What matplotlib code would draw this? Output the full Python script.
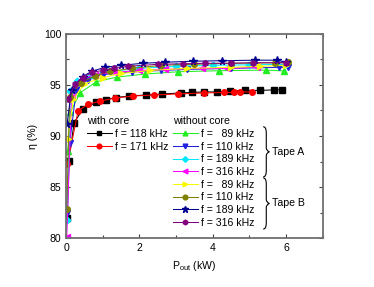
import matplotlib
matplotlib.use("Agg")
import matplotlib.pyplot as plt
from matplotlib.ticker import MultipleLocator
from matplotlib.path import Path
from matplotlib.patches import PathPatch

plt.rcParams['font.family'] = ['Liberation Sans', 'DejaVu Sans']
plt.rcParams['mathtext.fontset'] = 'custom'
plt.rcParams['mathtext.rm'] = 'Liberation Sans'

# ---- data ----
core118_x = [0.02, 0.08, 0.22, 0.47, 0.83, 1.08, 1.36, 1.72, 2.19, 2.63, 3.13, 3.43, 3.76, 4.12, 4.48, 4.88, 5.3, 5.67, 5.9]
core118_y = [82.0, 87.6, 91.3, 92.65, 93.3, 93.55, 93.75, 93.9, 94.0, 94.1, 94.2, 94.25, 94.3, 94.3, 94.4, 94.45, 94.45, 94.5, 94.5]
core171_x = [0.04, 0.33, 0.6, 0.93, 1.34, 1.83, 2.4, 3.05, 3.76, 4.32, 4.57, 4.75, 5.08]
core171_y = [87.3, 92.45, 93.1, 93.4, 93.7, 93.9, 94.0, 94.1, 94.2, 94.25, 94.25, 94.3, 94.3]

a89_x = [0.05, 0.12, 0.38, 0.83, 1.39, 2.16, 3.06, 4.16, 5.45, 5.95]
a89_y = [88.5, 92.3, 94.2, 95.3, 95.75, 96.05, 96.27, 96.37, 96.43, 96.35]
a110_x = [0.04, 0.1, 0.28, 0.6, 1.0, 1.8, 2.6, 3.3, 4.5, 5.8, 6.05]
a110_y = [82.5, 89.3, 94.5, 95.5, 96.0, 96.25, 96.4, 96.5, 96.6, 96.7, 96.7]
a189_x = [0.03, 0.12, 0.3, 0.7, 1.2, 2.0, 3.0, 4.0, 5.0, 6.0]
a189_y = [81.8, 94.4, 95.4, 96.0, 96.3, 96.6, 96.8, 96.9, 96.95, 97.0]
a316_x = [0.02, 0.15, 0.4, 0.8, 1.3, 2.0, 2.7, 3.7, 4.4, 5.2]
a316_y = [80.1, 93.8, 95.5, 96.0, 96.2, 96.4, 96.5, 96.6, 96.6, 96.7]
b89_x = [0.05, 0.2, 0.5, 1.0, 1.5, 2.3, 3.3, 4.5, 5.3, 6.0]
b89_y = [89.7, 93.6, 95.1, 95.7, 96.1, 96.4, 96.6, 96.7, 96.8, 96.9]
b110_x = [0.02, 0.1, 0.4, 0.8, 1.2, 1.8, 2.6, 3.5, 4.5, 5.7, 6.05]
b110_y = [82.9, 93.8, 95.2, 95.9, 96.3, 96.6, 96.9, 97.0, 97.1, 97.15, 97.2]
b189_x = [0.03, 0.15, 0.45, 0.7, 1.05, 1.5, 2.1, 2.7, 3.45, 4.25, 5.15, 5.75, 6.0]
b189_y = [91.2, 94.5, 95.8, 96.3, 96.7, 96.9, 97.1, 97.2, 97.3, 97.35, 97.4, 97.4, 97.2]
b316_x = [0.05, 0.25, 0.45, 0.7, 1.0, 1.3, 1.7, 2.5, 3.2, 3.8, 4.5, 5.1, 6.0]
b316_y = [93.6, 95.1, 95.7, 96.2, 96.4, 96.6, 96.8, 97.0, 97.05, 97.1, 97.1, 97.15, 97.15]

with_labels = ['f = 118 kHz', 'f = 171 kHz']
without_labels = ['f =   89 kHz', 'f = 110 kHz', 'f = 189 kHz', 'f = 316 kHz',
                  'f =   89 kHz', 'f = 110 kHz', 'f = 189 kHz', 'f = 316 kHz']

fig = plt.figure(figsize=(3.74, 2.87), dpi=100)
ax = fig.add_axes([0.1765, 0.1697, 0.6865, 0.7133])

fs = 7.6
lw = 0.75
ms = 4

with_series = [(core118_x, core118_y, 'black', 's'), (core171_x, core171_y, 'red', 'o')]
without_series = [
    (a89_x, a89_y, '#22ee22', '^'),
    (a110_x, a110_y, '#2020e0', 'v'),
    (a189_x, a189_y, '#00e8ff', 'D'),
    (a316_x, a316_y, '#ff00ff', '<'),
    (b89_x, b89_y, '#f8f800', '>'),
    (b110_x, b110_y, '#808000', 'o'),
    (b189_x, b189_y, '#000090', '*'),
    (b316_x, b316_y, '#800080', 'h'),
]

h_with = []
for (x, y, c, m), lab in zip(with_series, with_labels):
    l, = ax.plot(x, y, color=c, marker=m, ms=ms, lw=lw, label=lab)
    h_with.append(l)
h_without = []
for (x, y, c, m), lab in zip(without_series, without_labels):
    mss = ms + 1.5 if m == '*' else (ms - 0.6 if m == 'D' else ms)
    l, = ax.plot(x, y, color=c, marker=m, ms=mss, lw=lw, label=lab)
    h_without.append(l)

ax.set_xlim(0, 7)
ax.set_ylim(80, 100)
ax.xaxis.set_major_locator(MultipleLocator(2))
ax.xaxis.set_minor_locator(MultipleLocator(1))
ax.yaxis.set_major_locator(MultipleLocator(5))
ax.yaxis.set_minor_locator(MultipleLocator(2.5))
ax.tick_params(which='both', direction='in', top=True, right=True, labelsize=fs, color='#404040')
ax.tick_params(which='major', length=3, width=0.8)
ax.tick_params(which='minor', length=2, width=0.8)
for s in ax.spines.values():
    s.set_color('#707070')
    s.set_linewidth(1.3)

ax.set_xlabel('P$_\\mathregular{out}$ (kW)', fontsize=fs)
ax.set_ylabel('η (%)', fontsize=fs)

leg1 = ax.legend(handles=h_with, title='with core', loc='upper left',
                 bbox_to_anchor=(0.08, 0.595), frameon=False, fontsize=fs,
                 title_fontsize=fs, handlelength=2.4, handletextpad=0.25,
                 labelspacing=0.25, borderpad=0, borderaxespad=0, alignment='left',
                 markerscale=0.85)
ax.add_artist(leg1)
leg2 = ax.legend(handles=h_without, title='without core', loc='upper left',
                 bbox_to_anchor=(0.415, 0.595), frameon=False, fontsize=fs,
                 title_fontsize=fs, handlelength=2.4, handletextpad=0.25,
                 labelspacing=0.25, borderpad=0, borderaxespad=0, alignment='left',
                 markerscale=0.85)


def brace(ax, x, y0, y1, w=0.012):
    ym = 0.5 * (y0 + y1)
    verts = [(x, y1), (x + w, y1), (x + w, y1 - 0.03), (x + w, ym + 0.02),
             (x + w, ym + 0.005), (x + 2 * w, ym), (x + 2 * w, ym),
             (x + 2 * w, ym), (x + w, ym - 0.005), (x + w, ym - 0.02),
             (x + w, y0 + 0.03), (x + w, y0), (x, y0)]
    codes = [Path.MOVETO, Path.CURVE3, Path.CURVE3, Path.LINETO,
             Path.CURVE3, Path.CURVE3, Path.MOVETO,
             Path.MOVETO, Path.CURVE3, Path.CURVE3,
             Path.LINETO, Path.CURVE3, Path.CURVE3]
    p = PathPatch(Path(verts, codes), transform=ax.transAxes, fill=False,
                  lw=0.8, color='black', clip_on=False)
    ax.add_patch(p)
    return x + 2 * w

# braces in axes coordinates
xb = brace(ax, 0.768, 0.300, 0.545)
ax.text(xb + 0.01, 0.4225, 'Tape A', transform=ax.transAxes, fontsize=fs, va='center', ha='left')
xb = brace(ax, 0.768, 0.045, 0.295)
ax.text(xb + 0.01, 0.17, 'Tape B', transform=ax.transAxes, fontsize=fs, va='center', ha='left')

fig.savefig('out.png', dpi=100)
